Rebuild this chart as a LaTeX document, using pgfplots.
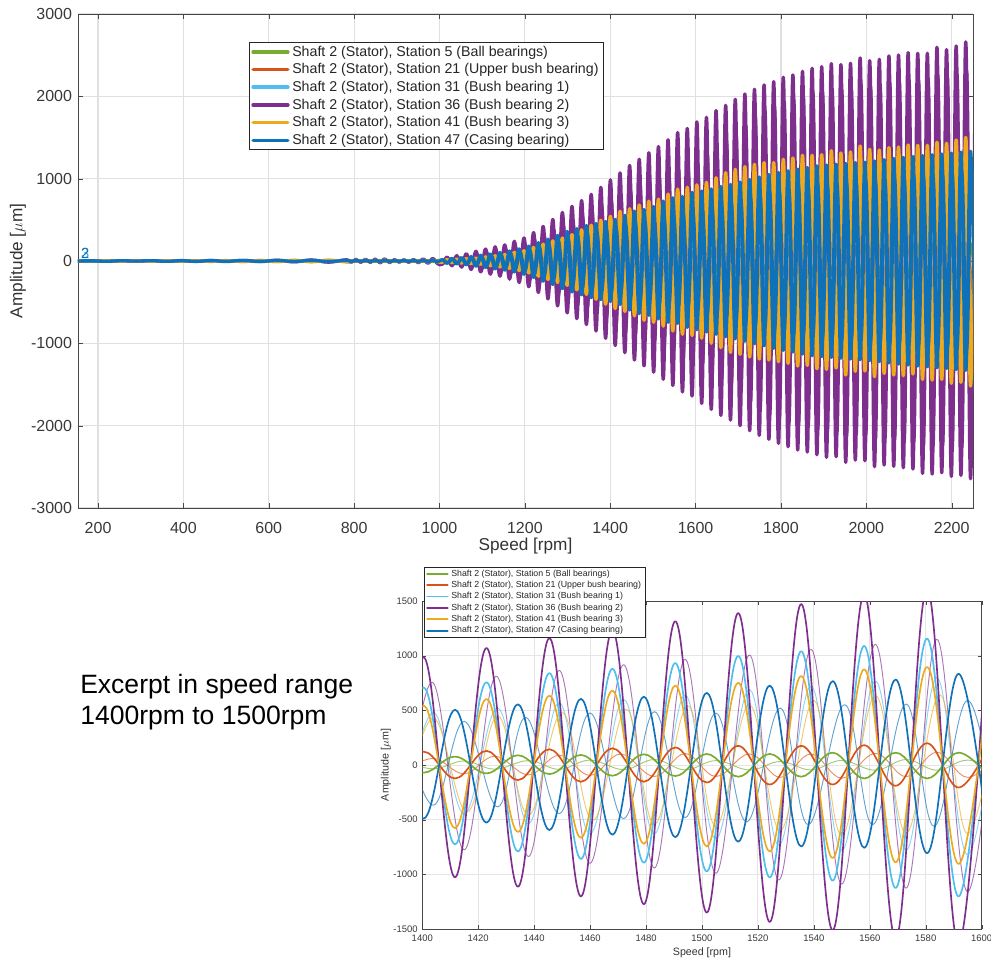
\documentclass[border=0pt]{standalone}
\usepackage{pgfplots}
\usepackage{pgfplotstable}
\usepackage{fontspec}
\setmainfont{Liberation Sans}
\pgfplotsset{compat=1.18}
\definecolor{cg}{HTML}{77AC30}
\definecolor{cr}{HTML}{D95319}
\definecolor{cc}{HTML}{4DBEEE}
\definecolor{cp}{HTML}{7E2F8E}
\definecolor{co}{HTML}{EFA91E}
\definecolor{cb}{HTML}{0F71B8}
\pgfplotstableread{
x g r c p o b
153 1 -1 2 -2 1 0
185 -1 1 -2 3 -1 2
220 1 -2 3 -3 2 -3
255 -2 2 -3 3 -2 3
290 1 -1 3 -4 2 -1
325 -2 2 -4 4 -2 4
360 2 -3 4 -4 3 -4
395 -2 3 -4 5 -3 3
430 2 -3 4 -5 3 -4
465 -3 3 -5 6 -4 5
500 3 -3 5 -6 4 -4
540 -3 4 -6 7 -5 6
580 3 -4 6 -7 5 -5
620 -4 5 -7 9 -6 7
660 4 -5 8 -10 7 -6
700 -4 6 -8 12 -8 8
740 4 -6 9 -14 8 -7
781 -4 6 -10 14 -8 8
793 4 -6 -10 -16 -8 -8
804.25 -4 6 12 20 10 9
815.5 4 -6 -11 -17 -9 -7
826.75 -4 6 13 22 12 10
838 4 -6 -11 -18 -9 -8
849.25 -4 6 12 24 11 10
860.5 4 -7 -13 -22 -10 -8
871.75 -4 7 14 25 12 11
883 4 -6 -12 -20 -10 -8
894.25 -4 5 10 17 9 7
905.5 3 -5 -9 -15 -8 -6
916.75 -3 6 11 15 8 9
928 3 -5 -10 -16 -8 -8
939.25 -4 5 12 19 9 9
950.5 4 -6 -13 -22 -10 -10
961.75 -4 6 15 24 11 11
973 4 -6 -16 -27 -12 -12
984.25 -5 7 18 30 12 13
995.5 5 -7 -20 -33 -13 -14
1006.75 6 -8 -23 -38 -15 18
1018 -6 9 30 48 19 -28
1029.25 7 -10 -33 -58 -22 32
1040.5 -7 11 37 66 24 -36
1051.75 8 -12 -41 -74 -26 42
1063 -8 13 46 88 30 -48
1074.25 9 -15 -52 -102 -34 54
1085.5 -9 16 58 118 38 -62
1096.75 10 -18 -64 -132 -42 70
1108 -11 20 72 145 50 -78
1119.25 12 -22 -82 -160 -58 86
1130.5 -12 24 92 172 64 -94
1141.75 13 -27 -102 -184 -72 102
1153 -14 29 112 196 80 -110
1164.25 16 -32 -128 -220 -92 120
1175.5 -17 34 145 240 105 -132
1186.75 18 -36 -160 -262 -115 146
1198 -20 38 172 280 125 -160
1209.25 22 -44 -200 -312 -145 180
1220.5 -24 48 228 345 165 -200
1231.75 26 -52 -258 -382 -185 222
1243 -28 56 288 420 205 -245
1254.25 31 -62 -318 -460 -225 265
1265.5 -33 68 350 505 245 -285
1276.75 36 -74 -382 -545 -262 310
1288 -39 80 412 590 280 -335
1299.25 42 -85 -440 -630 -295 358
1310.5 -45 90 470 665 320 -375
1321.75 48 -94 -502 -700 -350 392
1333 -50 98 532 735 378 -410
1344.25 53 -102 -565 -772 -405 430
1355.5 -56 106 595 810 435 -445
1366.75 59 -110 -625 -850 -465 455
1378 -62 114 655 895 495 -468
1389.25 65 -118 -685 -940 -525 480
1400.5 -70 122 710 985 543 -490
1411.75 77 -123 -727 -1027 -577 505
1423 -77 129 757 1070 604 -527
1434.25 89 -138 -791 -1113 -613 555
1445.5 -83 144 840 1160 635 -595
1456.75 92 -153 -859 -1202 -666 605
1468 -98 153 880 1235 681 -638
1479.25 98 -153 -893 -1273 -721 625
1490.5 -101 160 932 1315 727 -660
1501.75 101 -160 -973 -1350 -745 660
1513 -107 175 997 1390 752 -702
1524.25 101 -178 -1028 -1436 -791 727
1535.5 -107 175 1040 1472 813 -745
1546.75 113 -178 -1058 -1512 -850 767
1558 -123 181 1089 1560 874 -757
1569.25 113 -190 -1125 -1590 -890 782
1580.5 -123 199 1156 1610 896 -806
1591.75 113 -206 -1203 -1640 -905 834
1603 -120 205 1215 1690 925 -835
1614.25 120 -210 -1240 -1730 -938 850
1625.5 -122 218 1270 1745 957 -862
1636.75 125 -225 -1290 -1802 -1000 875
1648 -126 230 1325 1827 1012 -890
1659.25 128 -235 -1345 -1875 -1053 905
1670.5 -130 240 1370 1891 1073 -920
1681.75 134 -244 -1395 -1932 -1110 930
1693 -136 247 1410 1964 1113 -945
1704.25 140 -250 -1425 -2000 -1134 960
1715.5 -142 254 1450 2029 1146 -975
1726.75 145 -258 -1465 -2061 -1166 990
1738 -146 260 1480 2086 1174 -1005
1749.25 150 -264 -1490 -2118 -1191 1020
1760.5 -152 267 1505 2139 1195 -1030
1771.75 154 -270 -1520 -2166 -1203 1050
1783 -156 272 1530 2179 1195 -1060
1794.25 158 -274 -1545 -2215 -1223 1075
1805.5 -160 276 1555 2232 1235 -1085
1816.75 163 -278 -1565 -2256 -1243 1095
1828 -165 280 1575 2260 1251 -1105
1839.25 167 -282 -1585 -2296 -1276 1115
1850.5 -170 285 1600 2304 1284 -1130
1861.75 171 -288 -1610 -2320 -1268 1135
1873 -172 290 1620 2341 1284 -1150
1884.25 174 -292 -1630 -2353 -1308 1155
1895.5 -175 294 1640 2361 1292 -1160
1906.75 176 -296 -1645 -2385 -1316 1165
1918 -177 298 1655 2398 1340 -1170
1929.25 178 -299 -1660 -2377 -1300 1175
1940.5 -179 300 1668 2386 1312 -1180
1951.75 180 -301 -1675 -2446 -1385 1185
1963 -181 303 1680 2402 1325 -1190
1974.25 182 -305 -1688 -2418 -1340 1195
1985.5 -183 306 1695 2467 1397 -1198
1996.75 185 -309 -1700 -2426 -1336 1200
2008 -186 311 1705 2434 1357 -1208
2019.25 187 -312 -1710 -2498 -1405 1215
2030.5 -188 313 1715 2450 1348 -1222
2041.75 189 -314 -1720 -2478 -1365 1230
2053 -190 315 1722 2491 1377 -1238
2064.25 191 -316 -1728 -2494 -1385 1245
2075.5 -192 317 1732 2503 1385 -1252
2086.75 193 -318 -1735 -2511 -1393 1258
2098 -195 320 1740 2531 1409 -1262
2109.25 196 -321 -1745 -2527 -1373 1268
2120.5 -197 322 1750 2523 1405 -1275
2131.75 198 -323 -1755 -2580 -1438 1280
2143 -199 324 1758 2523 1405 -1285
2154.25 200 -325 -1762 -2588 -1446 1290
2165.5 -201 326 1768 2596 1442 -1296
2176.75 202 -327 -1772 -2572 -1438 1300
2188 -204 329 1775 2568 1430 -1305
2199.25 205 -330 -1780 -2616 -1486 1310
2210.5 -206 332 1785 2612 1470 -1318
2221.75 208 -333 -1790 -2604 -1474 1322
2233 -209 334 1795 2661 1502 -1328
2244.25 210 -335 -1800 -2645 -1519 1332
2255.5 -211 336 1810 2670 1510 -1335
}\datatab
\pgfplotstableread{
x tp to tb
1009.75 -34 -13 20
1021 37 14 -22
1032.25 -44 -16 25
1043.5 50 17 -28
1054.75 -56 -19 33
1066 66 22 -37
1077.25 -77 -24 42
1088.5 88 27 -48
1099.75 -99 -30 55
1111 109 36 -61
1122.25 -120 -42 67
1133.5 129 46 -73
1144.75 -138 -52 80
1156 147 58 -86
1167.25 -165 -66 94
1178.5 180 76 -103
1189.75 -197 -83 114
1201 210 90 -125
1212.25 -234 -104 140
1223.5 259 119 -156
1234.75 -287 -133 173
1246 315 148 -191
1257.25 -345 -162 207
1268.5 379 176 -222
1279.75 -409 -189 242
1291 443 202 -261
1302.25 -473 -212 279
1313.5 499 230 -293
1324.75 -525 -252 306
1336 551 272 -320
1347.25 -579 -292 335
1358.5 608 313 -347
1369.75 -638 -335 355
1381 671 356 -365
1392.25 -705 -378 374
1403.5 739 391 -382
1414.75 -776 -420 399
1426 812 440 -383
1437.25 -837 -460 436
1448.5 865 480 -445
1459.75 -899 -506 476
1471 917 510 -491
1482.25 -942 -543 488
1493.5 966 540 -481
1504.75 -990 -560 475
1516 1006 550 -521
1527.25 -1052 -598 521
1538.5 1058 590 -546
1549.75 -1089 -644 552
1561 1104 635 -546
1572.25 -1126 -623 558
1583.5 1150 645 -561
1594.75 -1160 -629 592
1606 1190 660 -600
1617.25 -1240 -680 612
1628.5 1280 700 -625
1639.75 -1340 -720 640
1651 1385 735 -655
1662.25 -1430 -760 670
1673.5 1460 775 -685
1684.75 -1510 -800 700
1696 1550 810 -715
1707.25 -1600 -820 735
1718.5 1650 830 -750
1729.75 -1700 -850 770
1741 1755 855 -785
1752.25 -1800 -875 800
1763.5 1830 880 -815
1774.75 -1870 -885 830
1786 1880 880 -840
1797.25 -1920 -900 850
1808.5 1940 910 -860
1819.75 -1960 -920 870
1831 1965 925 -880
1842.25 -2000 -945 890
1853.5 2005 950 -900
1864.75 -2020 -940 910
1876 2040 950 -915
1887.25 -2050 -965 920
1898.5 2055 960 -925
1909.75 -2075 -975 930
1921 2085 990 -935
1932.25 -2070 -965 940
1943.5 2080 970 -945
1954.75 -2130 -1025 950
1966 2090 980 -955
1977.25 -2105 -990 960
1988.5 2150 1035 -965
1999.75 -2110 -990 970
2011 2120 1005 -975
2022.25 -2175 -1040 980
2033.5 2130 1000 -985
2044.75 -2155 -1010 990
2056 2165 1020 -995
2067.25 -2170 -1025 1000
2078.5 2175 1025 -1005
2089.75 -2185 -1030 1010
2101 2200 1045 -1015
2112.25 -2200 -1015 1020
2123.5 2195 1040 -1025
2134.75 -2245 -1065 1030
2146 2195 1040 -1035
2157.25 -2250 -1070 1040
2168.5 2260 1070 -1045
2179.75 -2240 -1065 1050
2191 2235 1060 -1055
2202.25 -2275 -1100 1060
2213.5 2270 1090 -1065
2224.75 -2265 -1090 1070
2236 2315 1110 -1075
2247.25 -2300 -1125 1080
2258.5 2320 1130 -1085
}\thintab
\pgfplotsset{
  common/.style={
    scale only axis, clip=true, grid=both, minor tick num=0,
    grid style={color=black!12,line width=0.9pt},
    axis line style={color=black!72},
    tick style={color=black!72},
    tick align=inside, xtick pos=both, ytick pos=both,
    tick label style={text=black!78},
    label style={text=black!80},
    legend cell align=left,
    legend style={draw=black!85,fill=white,line width=0.6pt,inner sep=1.5pt,text=black!85},
  },
  trace/.style={smooth,tension=0.65,line join=round,line cap=round},
}
\begin{document}
\begin{tikzpicture}
\path[use as bounding box] (0,0) rectangle (743.25pt,718.5pt);
% ---- upper axis
\begin{axis}[common,
  at={(58.5pt,337.5pt)}, anchor=south west,
  width=671.25pt, height=370.5pt,
  xmin=153, xmax=2250, ymin=-3000, ymax=3000,
  xtick={200,400,...,2200},
  xticklabels={200,400,600,800,1000,1200,1400,1600,1800,2000,2200},
  ytick={-3000,-2000,...,3000},
  yticklabels={-3000,-2000,-1000,0,1000,2000,3000},
  major tick length=4pt,
  tick label style={font=\fontsize{12}{14}\selectfont},
  xlabel={Speed [rpm]}, ylabel={Amplitude [$\mu$m]},
  label style={font=\fontsize{12.9}{15}\selectfont},
  xlabel style={yshift=3pt}, ylabel style={yshift=-3pt},
  xticklabel style={yshift=-7pt}, yticklabel style={xshift=-1pt},
  legend style={at={(0.191,0.943)},anchor=north west,font=\fontsize{10.65}{12}\selectfont,
    row sep=2.25pt, nodes={inner ysep=0.9pt}},
  legend image code/.code={\draw[#1,line width=2.7pt] (0pt,0pt) -- (26pt,0pt);},
]
\addplot[cg,line width=2.5pt,trace] table[x=x,y=g]{\datatab};
\addlegendentry{Shaft 2 (Stator), Station 5 (Ball bearings)}
\addplot[cr,line width=2.5pt,trace] table[x=x,y=r]{\datatab};
\addlegendentry{Shaft 2 (Stator), Station 21 (Upper bush bearing)}
\addplot[cc,line width=2.5pt,trace] table[x=x,y=c]{\datatab};
\addlegendentry{Shaft 2 (Stator), Station 31 (Bush bearing 1)}
\addplot[forget plot,cp,line width=1.8pt,trace] table[x=x,y=tp]{\thintab};
\addplot[cp,line width=2.5pt,trace] table[x=x,y=p]{\datatab};
\addlegendentry{Shaft 2 (Stator), Station 36 (Bush bearing 2)}
\addplot[forget plot,co,line width=1.8pt,trace] table[x=x,y=to]{\thintab};
\addplot[co,line width=2.5pt,trace] table[x=x,y=o]{\datatab};
\addlegendentry{Shaft 2 (Stator), Station 41 (Bush bearing 3)}
\addplot[cb,line width=2.5pt,trace] table[x=x,y=b]{\datatab};
\addlegendentry{Shaft 2 (Stator), Station 47 (Casing bearing)}
\addplot[forget plot,cb,line width=1.8pt,trace] table[x=x,y=tb]{\thintab};
\node[cc!70!cb,font=\fontsize{11}{12}\selectfont] at (axis cs:170,90) {3};
\node[cb,font=\fontsize{11}{12}\selectfont] at (axis cs:170,90) {2};
\end{axis}
% ---- text
\node[anchor=west,align=left,inner sep=0pt,font=\fontsize{19.9}{23.25}\selectfont] at (60pt,191.6pt)
  {Excerpt in speed range\\1400rpm to 1500rpm};
% ---- lower axis
\begin{axis}[common,
  at={(316.7pt,21.75pt)}, anchor=south west,
  width=419.55pt, height=246pt,
  xmin=1400, xmax=1600, ymin=-1500, ymax=1500,
  xtick={1400,1420,...,1600},
  xticklabels={1400,1420,1440,1460,1480,1500,1520,1540,1560,1580,1600},
  ytick={-1500,-1000,...,1500},
  yticklabels={-1500,-1000,-500,0,500,1000,1500},
  major tick length=3pt,
  tick label style={font=\fontsize{7.1}{8.5}\selectfont},
  xlabel={Speed [rpm]}, ylabel={Amplitude [$\mu$m]},
  label style={font=\fontsize{8}{9.5}\selectfont},
  xlabel style={yshift=2pt}, ylabel style={yshift=-5pt},
  xticklabel style={yshift=-1pt},
  axis line style={color=black!72,line width=0.5pt},
  grid style={color=black!10,line width=0.7pt},
  restrict x to domain=1385:1612,
  legend style={at={(0.003,1.105)},anchor=north west,font=\fontsize{6.6}{7.8}\selectfont,
    row sep=1.15pt, nodes={inner ysep=0.55pt},line width=0.5pt},
  legend image code/.code={\draw[#1,line width=1.25pt] (0pt,0pt) -- (15.5pt,0pt);},
]
% thin traces
\addplot[forget plot,cg,opacity=.65,line width=.7pt,trace] coordinates {(1393,35)(1404,-35)(1415,37)(1426,-38)(1438,40)(1449,-40)(1460,45)(1472,-42)(1483,50)(1494,-45)(1505,40)(1517,-46)(1528,32)(1539,-45)(1550,42)(1562,-48)(1573,50)(1584,-48)(1595,45)(1607,-50)};
\addplot[forget plot,cr,opacity=.65,line width=.7pt,trace] coordinates {(1393,-60)(1404,60)(1415,-80)(1426,80)(1438,-90)(1449,90)(1460,-95)(1471,100)(1483,-105)(1494,105)(1505,-105)(1517,101)(1528,-113)(1539,101)(1550,-120)(1562,107)(1573,-107)(1584,117)(1595,-113)(1607,120)};
\addplot[forget plot,cc,opacity=.65,line width=.7pt,trace] coordinates {(1393,-420)(1404,480)(1415,-445)(1427,520)(1438,-537)(1449,570)(1460,-630)(1472,600)(1483,-630)(1494,640)(1505,-675)(1517,690)(1527.5,-735)(1539,720)(1550,-780)(1562,767)(1573,-780)(1584,797)(1595,-820)(1607,830)};
\addplot[forget plot,cp,opacity=.65,line width=.7pt,trace] coordinates {(1392.5,-730)(1403.5,757)(1415,-776)(1426.5,812)(1438,-837)(1449,865)(1460,-899)(1472,917)(1483,-942)(1494,966)(1505,-990)(1517,1006)(1527.5,-1052)(1539,1058)(1550,-1089)(1562,1104)(1573,-1126)(1584,1150)(1595,-1160)(1607,1190)};
\addplot[forget plot,co,opacity=.65,line width=.7pt,trace] coordinates {(1393,-400)(1404,430)(1416,-430)(1427,450)(1438,-460)(1450,480)(1461,-506)(1473,510)(1483,-543)(1495,540)(1505,-560)(1517,550)(1528,-598)(1540,590)(1550,-644)(1562,635)(1573,-623)(1585,645)(1595,-629)(1607,660)};
\addplot[forget plot,cb,opacity=.65,line width=.7pt,trace] coordinates {(1393,350)(1404,-368)(1415,399)(1427,-383)(1437,436)(1449,-445)(1460,476)(1472,-491)(1483,488)(1494,-481)(1505,475)(1516,-521)(1528,521)(1538,-546)(1551,552)(1561,-546)(1573,558)(1583,-561)(1595,592)(1606,-580)};
% thick traces
\addplot[cg,line width=1.25pt,trace] table[x=x,y=g]{\datatab};
\addlegendentry{Shaft 2 (Stator), Station 5 (Ball bearings)}
\addplot[cr,line width=1.25pt,trace] table[x=x,y=r]{\datatab};
\addlegendentry{Shaft 2 (Stator), Station 21 (Upper bush bearing)}
\addplot[cc,line width=1.25pt,trace] table[x=x,y=c]{\datatab};
\addlegendentry{Shaft 2 (Stator), Station 31 (Bush bearing 1)}
\addplot[cp,line width=1.25pt,trace] table[x=x,y=p]{\datatab};
\addlegendentry{Shaft 2 (Stator), Station 36 (Bush bearing 2)}
\addplot[co,line width=1.25pt,trace] table[x=x,y=o]{\datatab};
\addlegendentry{Shaft 2 (Stator), Station 41 (Bush bearing 3)}
\addplot[cb,line width=1.25pt,trace] table[x=x,y=b]{\datatab};
\addlegendentry{Shaft 2 (Stator), Station 47 (Casing bearing)}
\end{axis}
\end{tikzpicture}
\end{document}
